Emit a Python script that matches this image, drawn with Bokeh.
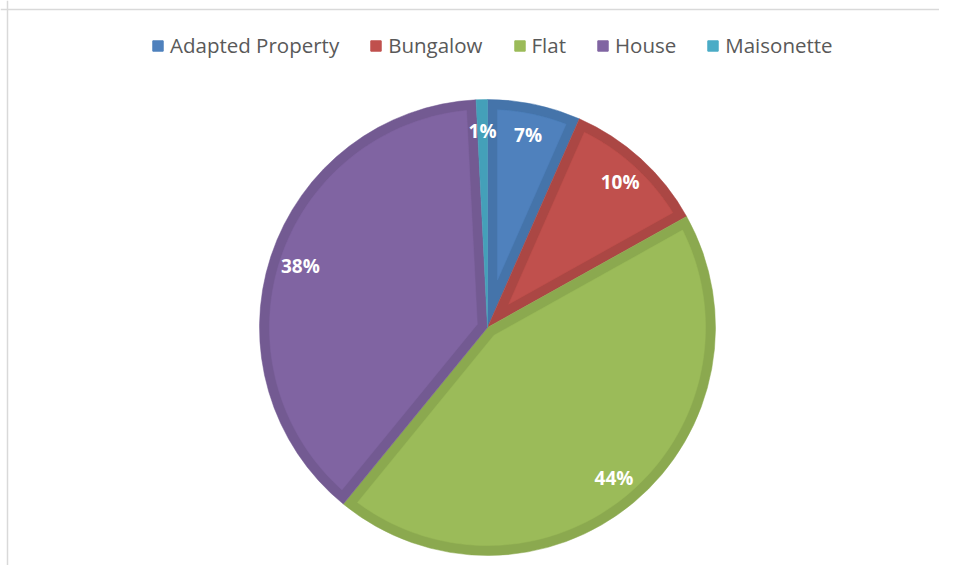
import numpy as np
from bokeh.plotting import figure
from bokeh.models import ColumnDataSource, Span, Legend, LegendItem
from bokeh.core.properties import value
from bokeh.embed import file_html
from bokeh.resources import INLINE

categories = ["Adapted Property", "Bungalow", "Flat", "House", "Maisonette"]
shares = [6.6, 10.3, 44.0, 38.3, 0.8]
labels = ["7%", "10%", "44%", "38%", "1%"]
fill_colors = ["#4F81BD", "#C0504D", "#9BBB59", "#8064A2", "#4BACC6"]
edge_colors = ["#4574AA", "#AB4744", "#8BA94F", "#735A92", "#44A0B9"]

W, H = 939, 565
p = figure(width=W, height=H, x_range=(0, W), y_range=(0, H),
           output_backend="svg", toolbar_location=None, min_border=0)
p.axis.visible = False
p.grid.visible = False
p.outline_line_color = None
p.background_fill_color = "white"

cx, cy, R, d, rl = 487.0, 238.0, 228.0, 10.0, 197.0

fr = np.array(shares) / np.sum(shares)
ends = np.cumsum(fr) * 2 * np.pi          # compass angles, clockwise from north
starts = ends - fr * 2 * np.pi

# outer wedges (edge colour)
src = ColumnDataSource(dict(
    start=np.pi / 2 - ends, end=np.pi / 2 - starts,
    color=edge_colors, cat=categories))
p.wedge(x=cx, y=cy, radius=R, start_angle="start", end_angle="end",
        fill_color="color", line_color="color", line_width=0.5, source=src)

# inner inset patches (fill colour)
xs, ys, cols = [], [], []
r = R - d
for t0, t1, c in zip(starts, ends, fill_colors):
    h = (t1 - t0) / 2
    off = np.arcsin(d / r)
    if t1 - t0 <= 2 * off:
        continue
    a = d / np.sin(h)
    mid = (t0 + t1) / 2
    ang = np.linspace(t0 + off, t1 - off, 120)
    px = [cx + a * np.sin(mid)] + list(cx + r * np.sin(ang))
    py = [cy + a * np.cos(mid)] + list(cy + r * np.cos(ang))
    xs.append(px); ys.append(py); cols.append(c)
p.patches(xs=xs, ys=ys, fill_color=cols, line_color=cols, line_width=0.5)

# data labels
mids = (starts + ends) / 2
p.text(x=cx + rl * np.sin(mids), y=cy + rl * np.cos(mids), text=labels,
       text_align="center", text_baseline="middle", text_color="white",
       text_font=value("Open Sans"), text_font_style="bold",
       text_font_size="19px")

# chart frame (left and top edges visible)
p.add_layout(Span(location=7, dimension="height", line_color="#D9D9D9", line_width=1.5))
p.add_layout(Span(location=H - 9, dimension="width", line_color="#D9D9D9", line_width=1.5))

# legend
items = []
for cat, c in zip(categories, fill_colors):
    rr = p.rect(x=[-1000], y=[-1000], width=1, height=1,
                fill_color=c, line_color=c)
    items.append(LegendItem(label=cat, renderers=[rr]))
legend = Legend(items=items, orientation="horizontal", location=(151, H - 59),
                glyph_width=13, glyph_height=13, label_standoff=6, spacing=30,
                padding=0, margin=0, border_line_color=None,
                background_fill_alpha=0, label_text_font="Open Sans",
                label_text_font_size="20.5px", label_text_color="#595959",
                label_height=13)
p.add_layout(legend, "center")

open("out.html", "w").write(file_html(p, INLINE))
